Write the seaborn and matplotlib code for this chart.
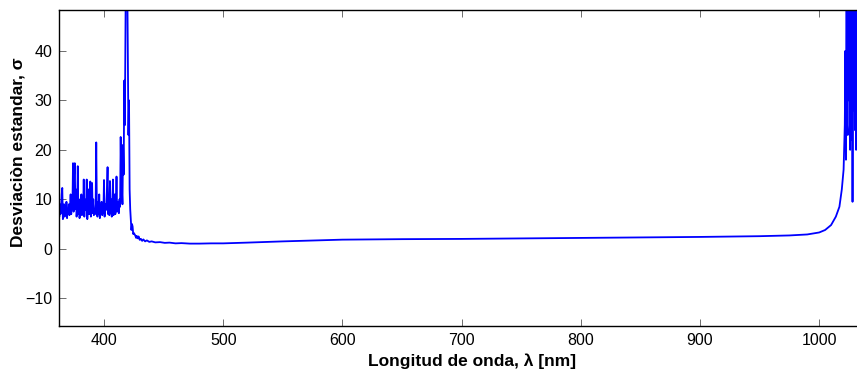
import numpy as np
import pandas as pd
import matplotlib
matplotlib.use("Agg")
import matplotlib.pyplot as plt
import seaborn as sns

# --- data ---
# noisy start of the spectrum, sampled every 0.5 nm from 362 nm
noisy_start_nm = 362.0
noisy_step_nm = 0.5
noisy_vals = [
    8.5, 6.5, 9.0, 7.0, 8.0, 11.0, 12.3, 6.0, 7.5, 9.0,
    6.5, 8.5, 7.0, 9.5, 6.2, 8.0, 7.5, 9.0, 6.8, 8.2,
    11.0, 7.0, 9.5, 8.0, 17.3, 7.5, 15.0, 17.3, 8.0, 12.0,
    6.5, 8.5, 16.7, 7.0, 10.0, 6.2, 8.0, 7.2, 11.0, 6.8,
    8.8, 7.5, 14.0, 6.5, 10.0, 7.8, 8.5, 14.0, 6.0, 9.0,
    12.0, 7.0, 8.5, 13.6, 6.5, 9.2, 13.3, 7.2, 10.0, 6.8,
    8.0, 7.0, 9.0, 21.5, 8.0, 6.5, 9.5, 7.0, 11.0, 6.2,
    8.5, 7.5, 9.5, 6.8, 8.0, 7.2, 13.9, 6.5, 9.0, 7.8,
    8.5, 12.0, 16.5, 7.0, 9.0, 6.8, 13.7, 7.2, 10.0, 6.5,
    8.5, 14.0, 6.8, 9.0, 11.0, 7.0, 8.5, 14.6, 7.5, 9.5,
    9.0, 7.2, 10.0, 8.5, 22.6, 13.0, 12.0, 9.0, 21.0, 15.0,
]

# remainder of the spectrum
rest_nm = [
    417, 417.5, 418, 418.5, 419, 419.5, 420, 420.5, 421, 421.5,
    422, 422.5, 423, 423.5, 424, 424.5, 425, 426, 427, 427.5,
    428.5, 429, 430, 431, 432, 433, 434.5, 436, 438, 440,
    443, 447, 451, 455, 460, 465, 472, 480, 490, 500,
    520, 550, 600, 650, 700, 750, 800, 850, 900, 950,
    975, 990, 1000, 1005, 1010, 1014, 1017, 1019, 1020.5, 1021.5,
    1022, 1022.5, 1023, 1023.5, 1024, 1024.5, 1025, 1025.5, 1026, 1026.5,
    1027, 1027.5, 1028, 1028.5, 1029, 1029.5, 1030, 1030.5, 1031, 1031.5,
    1032,
]
rest_vals = [
    34.0, 25.0, 45.0, 60.0, 75.0, 55.0, 40.0, 23.0, 30.0, 12.0,
    8.0, 6.0, 3.8, 5.0, 4.5, 3.0, 3.2, 2.8, 2.2, 2.6,
    2.1, 2.5, 1.8, 2.0, 1.6, 1.9, 1.5, 1.7, 1.4, 1.5,
    1.3, 1.35, 1.2, 1.25, 1.1, 1.15, 1.05, 1.05, 1.1, 1.1,
    1.25, 1.5, 1.85, 1.95, 2.0, 2.1, 2.2, 2.3, 2.4, 2.55,
    2.7, 2.9, 3.3, 3.8, 4.8, 6.5, 8.5, 12.0, 16.0, 25.0,
    40.0, 18.0, 70.0, 25.0, 23.0, 85.0, 30.0, 90.0, 20.0, 75.0,
    22.0, 80.0, 9.5, 70.0, 28.0, 85.0, 24.0, 90.0, 20.0, 80.0,
    30.0,
]

x_ticks = [400, 500, 600, 700, 800, 900, 1000]
y_ticks = [-10, 0, 10, 20, 30, 40]

noisy_nm = list(noisy_start_nm + noisy_step_nm * np.arange(len(noisy_vals)))
df = pd.DataFrame({
    "nm": noisy_nm + rest_nm,
    "sigma": noisy_vals + rest_vals,
})

sns.set_style("white")
plt.rcParams["font.family"] = ["Liberation Sans", "DejaVu Sans"]
plt.rcParams["text.color"] = "black"
plt.rcParams["axes.labelcolor"] = "black"
plt.rcParams["xtick.color"] = "black"
plt.rcParams["ytick.color"] = "black"

fig = plt.figure(figsize=(8.57, 3.72), dpi=100)
ax = fig.add_axes([59.3 / 857, 1 - 326 / 372, (857.3 - 59.3) / 857, (326 - 10.3) / 372])

sns.lineplot(data=df, x="nm", y="sigma", ax=ax, color="#0000ff",
             linewidth=1.3, estimator=None, sort=False)

ax.set_xlim(362.5, 1032)
ax.set_ylim(-15.6, 48.2)
ax.set_xticks(x_ticks)
ax.set_yticks(y_ticks)
ax.set_xticklabels([str(t) for t in x_ticks])
ax.set_yticklabels([str(t).replace("-", "\u2212") for t in y_ticks])
ax.tick_params(direction="in", length=5, width=0.6, color="#555555",
               labelsize=11.5, top=True, bottom=True, left=True, right=False,
               pad=5, labelcolor="black")
for s in ["left", "bottom", "top"]:
    ax.spines[s].set_color("black")
    ax.spines[s].set_linewidth(1.0)
ax.spines["right"].set_visible(False)

ax.set_xlabel("Longitud de onda, λ [nm]", fontsize=12.5, fontweight="bold")
ax.set_ylabel("Desviaciòn estandar, σ", fontsize=12.5, fontweight="bold")
ax.xaxis.set_label_coords(0.517, -0.088)
ax.yaxis.set_label_coords(-0.042, 0.551)

fig.savefig("out.png", dpi=100)
